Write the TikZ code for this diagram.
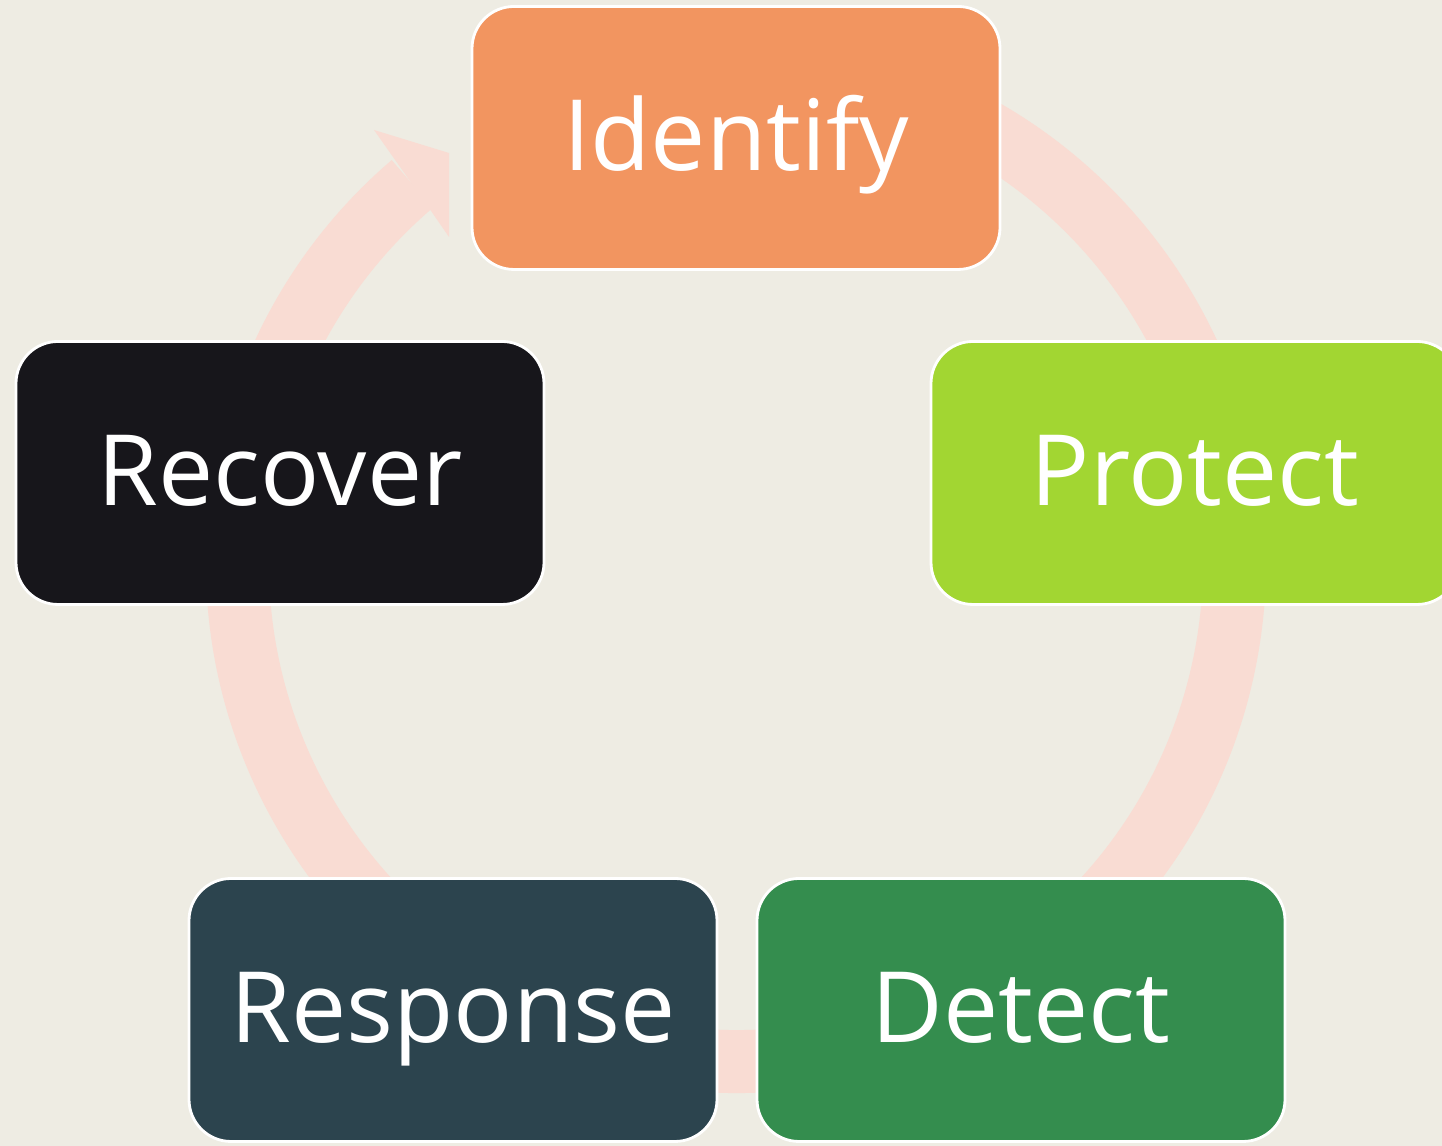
\documentclass[tikz,border=0pt]{standalone}
\usepackage{fontspec}
\setmainfont{Open Sans}
\definecolor{paper}{HTML}{EEECE3}
\definecolor{ringpink}{HTML}{F9DCD3}
\definecolor{identifyc}{HTML}{F29560}
\definecolor{protectc}{HTML}{A2D632}
\definecolor{detectc}{HTML}{348D4E}
\definecolor{responsec}{HTML}{2C444E}
\definecolor{recoverc}{HTML}{17161B}
\begin{document}
\begin{tikzpicture}[x=0.1mm,y=0.1mm,
  stage/.style={draw=white,line width=0.8pt,rounded corners=4.2mm,
    minimum width=52.8mm,minimum height=26.3mm,inner sep=0pt,
    text=white,font=\fontsize{28}{34}\selectfont,
    text height=7.4mm,text depth=0.8mm},
  ring/.style={draw=ringpink,line width=6.3mm}]
\useasboundingbox (0,0) rectangle (1442,1146);
\clip (0,0) rectangle (1442,1146);
\fill[paper] (0,0) rectangle (1442,1146);
% Ring behind the boxes
\coordinate (c) at (736,583);
\draw[ring] (c) ++(80:49.85mm) arc[start angle=80, end angle=-229.5, radius=49.85mm];
\fill[ringpink] (393,989) -- (374,1016) -- (449,993) -- (449,909) -- (429,938) -- cycle;
% Stages
\node[stage,fill=identifyc] (identify) at (736,1008) {Identify};
\node[stage,fill=protectc] (protect) at (1195,673) {Protect};
\node[stage,fill=detectc] (detect) at (1021,136) {Detect};
\node[stage,fill=responsec] (response) at (453,136) {Response};
\node[stage,fill=recoverc] (recover) at (280,673) {Recover};
\end{tikzpicture}
\end{document}
